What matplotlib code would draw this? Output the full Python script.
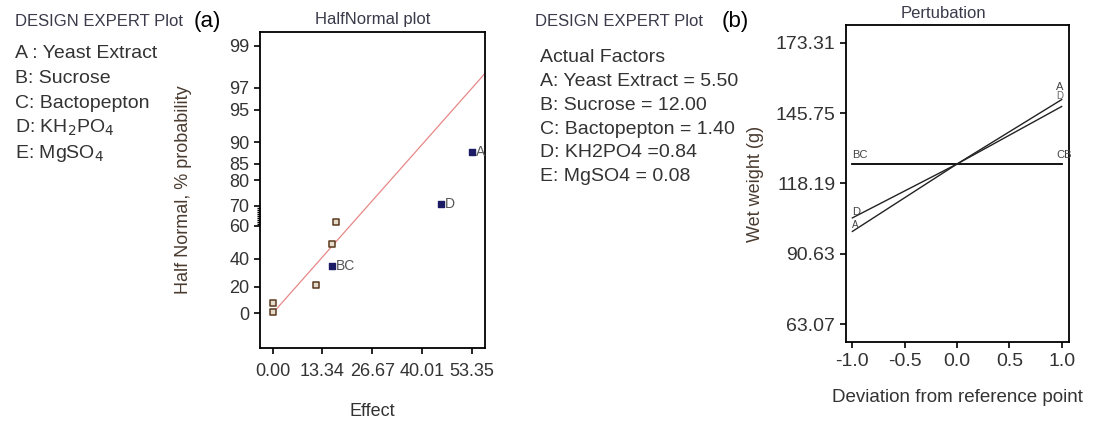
import numpy as np
import matplotlib
matplotlib.use("Agg")
import matplotlib.pyplot as plt
from statistics import NormalDist

plt.rcParams['font.family'] = ['Liberation Sans', 'DejaVu Sans']

# ---- (a) half normal plot of effects ----
effect_plain = [0.0, 0.0, 11.6, 15.9, 16.9]
prob_plain = [1.0, 7.5, 21.5, 49.6, 61.9]
effect_named = [15.9, 45.1, 53.35]
prob_named = [35.0, 70.5, 87.9]
names = ["BC", "D", "A"]
fit_effect = [0.0, 56.9]
fit_prob = [0.0, 97.9]
prob_ticks = [0, 20, 40, 60, 70, 80, 85, 90, 95, 97, 99]
effect_ticks = [0.00, 13.34, 26.67, 40.01, 53.35]

factors_a = ["A : Yeast Extract", "B: Sucrose", "C: Bactopepton",
             r"D: KH$_2$PO$_4$", r"E: MgSO$_4$"]

# ---- (b) perturbation plot ----
deviation = [-1.0, 0.0, 1.0]
weight_A = [99.4, 125.8, 151.0]
weight_D = [104.7, 125.8, 148.3]
weight_BC = [125.8, 125.8, 125.8]
weight_ticks = [63.07, 90.63, 118.19, 145.75, 173.31]
dev_ticks = [-1.0, -0.5, 0.0, 0.5, 1.0]
factors_b = ["Actual Factors", "A: Yeast Extract = 5.50", "B: Sucrose = 12.00",
             "C: Bactopepton = 1.40", "D: KH2PO4 =0.84", "E: MgSO4 = 0.08"]

_nd = NormalDist()


def halfnorm_fwd(p):
    p = np.asarray(p, dtype=float)
    q = np.clip(np.abs(p) / 100.0, 0.0, 0.999999)
    z = [(_nd.inv_cdf((1 + v) / 2) if np.isfinite(v) else np.nan) for v in q.ravel()]
    return np.sign(p) * np.array(z).reshape(q.shape)


def halfnorm_inv(z):
    z = np.asarray(z, dtype=float)
    p = [(2 * _nd.cdf(abs(v)) - 1 if np.isfinite(v) else np.nan) for v in z.ravel()]
    return np.sign(z) * np.array(p).reshape(z.shape) * 100


W, H = 1093, 423
fig = plt.figure(figsize=(W / 100, H / 100), dpi=100)


def px(x, y):
    return x / W, 1 - y / H


txt = "#333333"
lab = "#4a3b30"

# legend texts on the left of each panel
fig.text(*px(15, 22), "DESIGN EXPERT Plot", fontsize=12, color="#3a3a4a", va="center")
fig.text(*px(194, 22), "(a)", fontsize=16, color="black", va="center")
for i, s in enumerate(factors_a):
    fig.text(*px(15, 53 + 25 * i), s, fontsize=14, color=txt, va="center")

fig.text(*px(535, 22), "DESIGN EXPERT Plot", fontsize=12, color="#3a3a4a", va="center")
fig.text(*px(722, 22), "(b)", fontsize=16, color="black", va="center")
for i, s in enumerate(factors_b):
    fig.text(*px(540, 58 + 23.7 * i), s, fontsize=14, color=txt, va="center")

# ---- panel (a) ----
ax1 = fig.add_axes([260 / W, 1 - 348 / H, 225 / W, 316 / H])
ax1.set_yscale('function', functions=(halfnorm_fwd, halfnorm_inv))
ax1.plot(fit_effect, fit_prob, color="#e88888", lw=0.9)
ax1.scatter(effect_plain, prob_plain, marker="s", s=16, facecolor="#e6dccb",
            edgecolor="#5a3a1e", linewidth=1.1, zorder=3)
ax1.scatter(effect_named, prob_named, marker="s", s=16, color="#1c1c66", zorder=3)
for x, y, n in zip(effect_named, prob_named, names):
    ax1.annotate(n, (x, y), xytext=(3, 0), textcoords="offset points",
                 va="center", fontsize=10, color="#555555")
ax1.set_xlim(-3.4, 56.9)
ax1.set_ylim(-26.2, 99.32)
ax1.set_yticks(prob_ticks)
ax1.set_yticklabels([str(v) for v in prob_ticks])
ax1.set_yticks(np.arange(61, 70), minor=True)
ax1.set_xticks(effect_ticks)
ax1.set_xticklabels(["%.2f" % v for v in effect_ticks])
ax1.tick_params(axis="both", which="major", labelsize=13, colors="black",
                labelcolor=txt, length=4, width=1.2)
ax1.tick_params(axis="x", pad=7)
ax1.tick_params(axis="y", which="minor", length=2.5, width=1)
for sp in ax1.spines.values():
    sp.set_linewidth(1.3)
ax1.set_title("HalfNormal plot", fontsize=12, color="#3a3a4a", pad=6)
ax1.set_ylabel("Half Normal, % probability", fontsize=13, color=lab, labelpad=27)
ax1.set_xlabel("Effect", fontsize=13, color=txt, labelpad=16)

# ---- panel (b) ----
ax2 = fig.add_axes([845.7 / W, 1 - 342.3 / H, 223.6 / W, 317.3 / H])
ax2.plot(deviation, weight_BC, color="black", lw=1.3)
ax2.plot(deviation, weight_A, color="#222222", lw=1.0)
ax2.plot(deviation, weight_D, color="#222222", lw=1.0)
ax2.text(-1.0, weight_BC[0] + 1.5, "BC", fontsize=8, color="#444444", va="bottom")
ax2.text(0.95, weight_BC[-1] + 1.5, "CB", fontsize=8, color="#444444", va="bottom")
ax2.text(0.95, weight_A[-1] + 3.0, "A", fontsize=8, color="#444444", va="bottom")
ax2.text(0.95, weight_D[-1] + 2.0, "D", fontsize=7, color="#666666", va="bottom")
ax2.text(-1.0, weight_D[0] + 0.5, "D", fontsize=8, color="#444444", va="bottom")
ax2.text(-1.0, weight_A[0] + 0.5, "A", fontsize=7, color="#444444", va="bottom")
ax2.set_xlim(-1.064, 1.073)
ax2.set_ylim(56.0, 180.2)
ax2.set_yticks(weight_ticks)
ax2.set_yticklabels(["%.2f" % v for v in weight_ticks])
ax2.set_xticks(dev_ticks)
ax2.set_xticklabels(["%.1f" % v for v in dev_ticks])
ax2.tick_params(axis="both", labelsize=14, colors="black", labelcolor=txt,
                length=4, width=1.2)
for sp in ax2.spines.values():
    sp.set_linewidth(1.3)
ax2.text(0.435, 1.012, "Pertubation", transform=ax2.transAxes, ha="center",
         va="bottom", fontsize=12, color="#3a3a4a")
ax2.set_ylabel("Wet weight (g)", fontsize=13, color=lab, labelpad=8)
ax2.set_xlabel("Deviation from reference point", fontsize=13.5, color=txt, labelpad=14)

fig.savefig("out.png", dpi=100)
